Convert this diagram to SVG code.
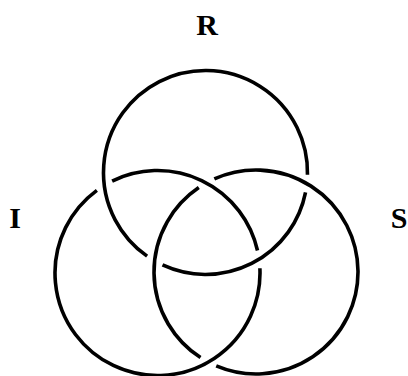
<svg xmlns="http://www.w3.org/2000/svg" width="408" height="376" viewBox="0 0 408 376">
<style>
.ring{fill:none;stroke:#000;stroke-width:3.6;stroke-linecap:butt}
.lbl{font-family:"Liberation Serif","Times New Roman",serif;font-weight:bold;font-size:30px;fill:#000;text-anchor:middle}
</style>
<rect width="408" height="376" fill="#fff"/>
<g id="connectors">
<g id="ring-R">
<path class="ring" d="M305.54,192.40 A102,102 0 0 1 162.51,264.99"/>
<path class="ring" d="M147.09,256.12 A102,102 0 1 1 307.48,174.72"/>
</g>
<g id="ring-I">
<path class="ring" d="M112.13,181.09 A102.5,102.5 0 0 1 257.5,250.5"/>
<path class="ring" d="M259.89,268.21 A102.5,102.5 0 1 1 96.87,190.35"/>
</g>
<g id="ring-S">
<path class="ring" d="M200.52,357.59 A102,102 0 0 1 198.79,187.55"/>
<path class="ring" d="M214.33,178.89 A102,102 0 1 1 216.23,365.92"/>
</g>
</g>
<g id="node-R"><text class="lbl" x="207" y="35">R</text></g>
<g id="node-I"><text class="lbl" x="15" y="228">I</text></g>
<g id="node-S"><text class="lbl" x="399" y="228">S</text></g>
</svg>
